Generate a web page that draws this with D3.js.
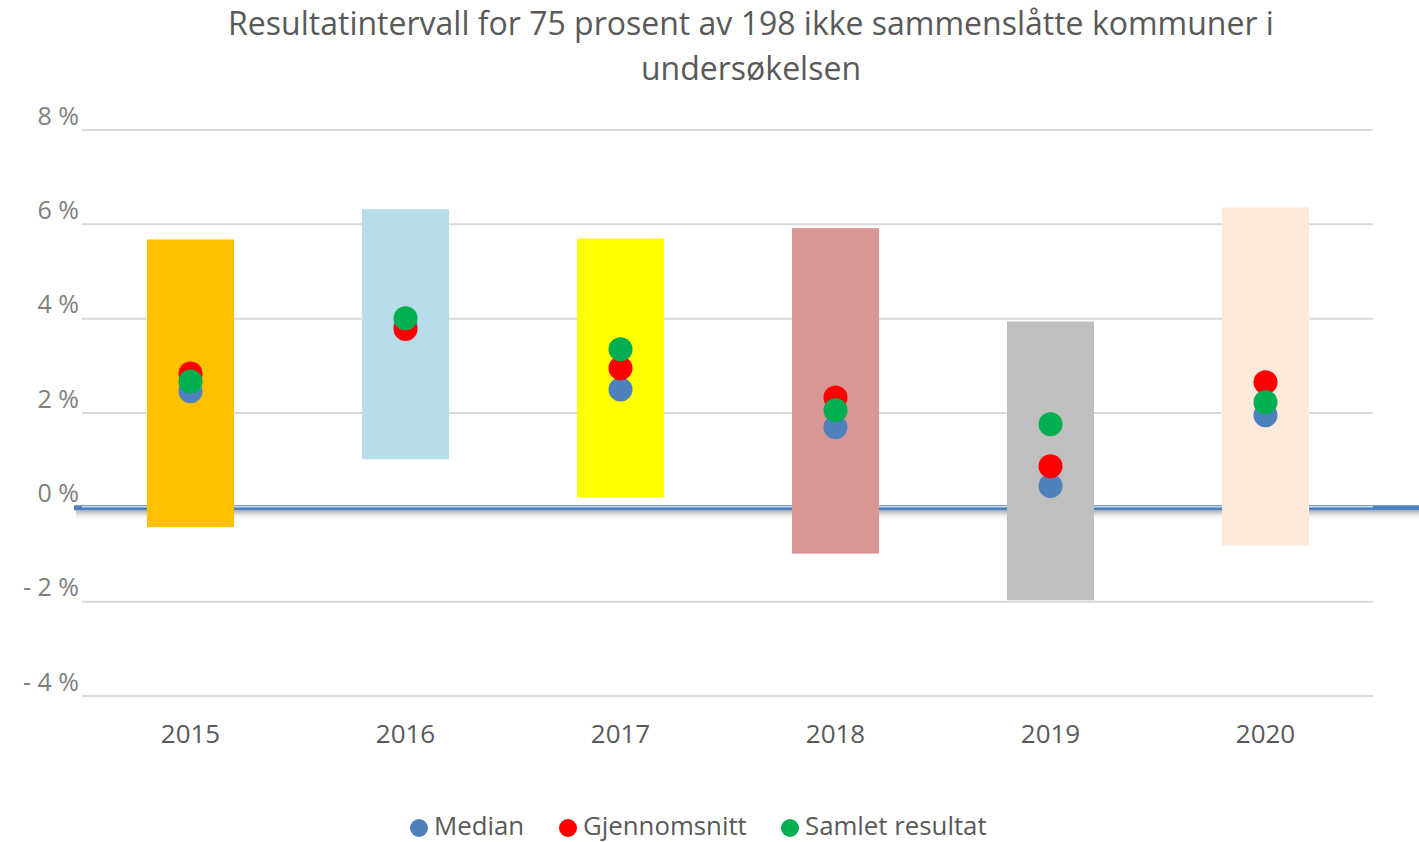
<!DOCTYPE html>
<html>
<head>
<meta charset="utf-8">
<script src="https://cdn.jsdelivr.net/npm/d3@7"></script>
<style>
  body { margin: 0; background: #fff; }
  svg { font-family: "Open Sans", sans-serif; }
</style>
</head>
<body>
<div id="chart"></div>
<script>
var years = ['2015', '2016', '2017', '2018', '2019', '2020'];
var rangeLow = [-0.42, 1.02, 0.21, -0.98, -1.97, -0.81];
var rangeHigh = [5.68, 6.32, 5.70, 5.92, 3.94, 6.36];
var barColors = ['#FFC000', '#B7DEE8', '#FFFF00', '#D99694', '#BFBFBF', '#FDE9D9'];
var median = [2.46, 3.85, 2.50, 1.70, 0.45, 1.95];
var mean = [2.84, 3.78, 2.95, 2.33, 0.87, 2.65];
var samlet = [2.67, 4.01, 3.35, 2.06, 1.76, 2.23];
var yTicks = [-4, -2, 0, 2, 4, 6, 8];
var seriesNames = ['Median', 'Gjennomsnitt', 'Samlet resultat'];
var seriesColors = ['#4F81BD', '#FF0000', '#00B050'];

var width = 1419, height = 842;
var svg = d3.select('#chart').append('svg').attr('width', width).attr('height', height);

var xscale = d3.scaleBand().domain(years).range([83, 1373]).paddingInner(0.595).paddingOuter(0.2975);
var yscale = d3.scaleLinear().domain([-4, 8]).range([696, 130]);

// title
var title = svg.append('text').attr('x', 751).attr('text-anchor', 'middle')
  .style('font-size', '32px').style('fill', '#595959');
title.append('tspan').attr('x', 751).attr('y', 35).text('Resultatintervall for 75 prosent av 198 ikke sammenslåtte kommuner i');
title.append('tspan').attr('x', 751).attr('y', 80).text('undersøkelsen');

// gridlines
svg.append('g').selectAll('line').data(yTicks.filter(d => d != 0)).enter().append('line')
  .attr('x1', 82).attr('x2', 1373)
  .attr('y1', d => yscale(d)).attr('y2', d => yscale(d))
  .style('stroke', '#d9d9d9').style('stroke-width', 2);

// y labels
svg.append('g').selectAll('text').data(yTicks).enter().append('text')
  .attr('x', 79).attr('y', d => yscale(d) - 12)
  .attr('text-anchor', 'end').attr('dominant-baseline', 'middle')
  .style('font-size', '25px').style('fill', '#7f7f7f')
  .text(d => (d < 0 ? '- ' + Math.abs(d) : d) + ' %');

// zero line with shadow
var defs = svg.append('defs');
var grad = defs.append('linearGradient').attr('id', 'shadow').attr('x1', 0).attr('x2', 0).attr('y1', 0).attr('y2', 1);
grad.append('stop').attr('offset', '0%').attr('stop-color', '#a0a0a0').attr('stop-opacity', 0.9);
grad.append('stop').attr('offset', '100%').attr('stop-color', '#ffffff').attr('stop-opacity', 0);
var y0 = yscale(0);
svg.append('rect').attr('x', 76).attr('y', y0 + 3).attr('width', width - 76).attr('height', 10).style('fill', 'url(#shadow)');
svg.append('line').attr('x1', 74).attr('x2', width).attr('y1', y0 + 0.5).attr('y2', y0 + 0.5)
  .style('stroke', '#4F81BD').style('stroke-width', 5);
svg.append('line').attr('x1', 82).attr('x2', 1373).attr('y1', y0 - 0.5).attr('y2', y0 - 0.5)
  .style('stroke', '#c8d6ea').style('stroke-width', 1.5);

// floating bars
svg.append('g').selectAll('rect').data(years).enter().append('rect')
  .attr('x', d => xscale(d))
  .attr('width', xscale.bandwidth())
  .attr('y', (d, i) => yscale(rangeHigh[i]))
  .attr('height', (d, i) => yscale(rangeLow[i]) - yscale(rangeHigh[i]))
  .style('fill', (d, i) => barColors[i]);

// points
[median, mean, samlet].forEach(function(series, s) {
  svg.append('g').selectAll('circle').data(series).enter().append('circle')
    .attr('cx', (d, i) => xscale(years[i]) + xscale.bandwidth() / 2)
    .attr('cy', d => yscale(d))
    .attr('r', 12)
    .style('fill', seriesColors[s]);
});

// x labels
svg.append('g').selectAll('text').data(years).enter().append('text')
  .attr('x', d => xscale(d) + xscale.bandwidth() / 2).attr('y', 736)
  .attr('text-anchor', 'middle').attr('dominant-baseline', 'middle')
  .style('font-size', '26px').style('fill', '#595959')
  .text(d => d);

// legend
var legendX = [419, 568, 790];
var legend = svg.append('g').selectAll('g').data(seriesNames).enter().append('g')
  .attr('transform', (d, i) => 'translate(' + legendX[i] + ',828)');
legend.append('circle').attr('r', 9).style('fill', (d, i) => seriesColors[i]);
legend.append('text').attr('x', 15).attr('dominant-baseline', 'middle')
  .style('font-size', '25.8px').style('fill', '#595959').text(d => d);
</script>
</body>
</html>
